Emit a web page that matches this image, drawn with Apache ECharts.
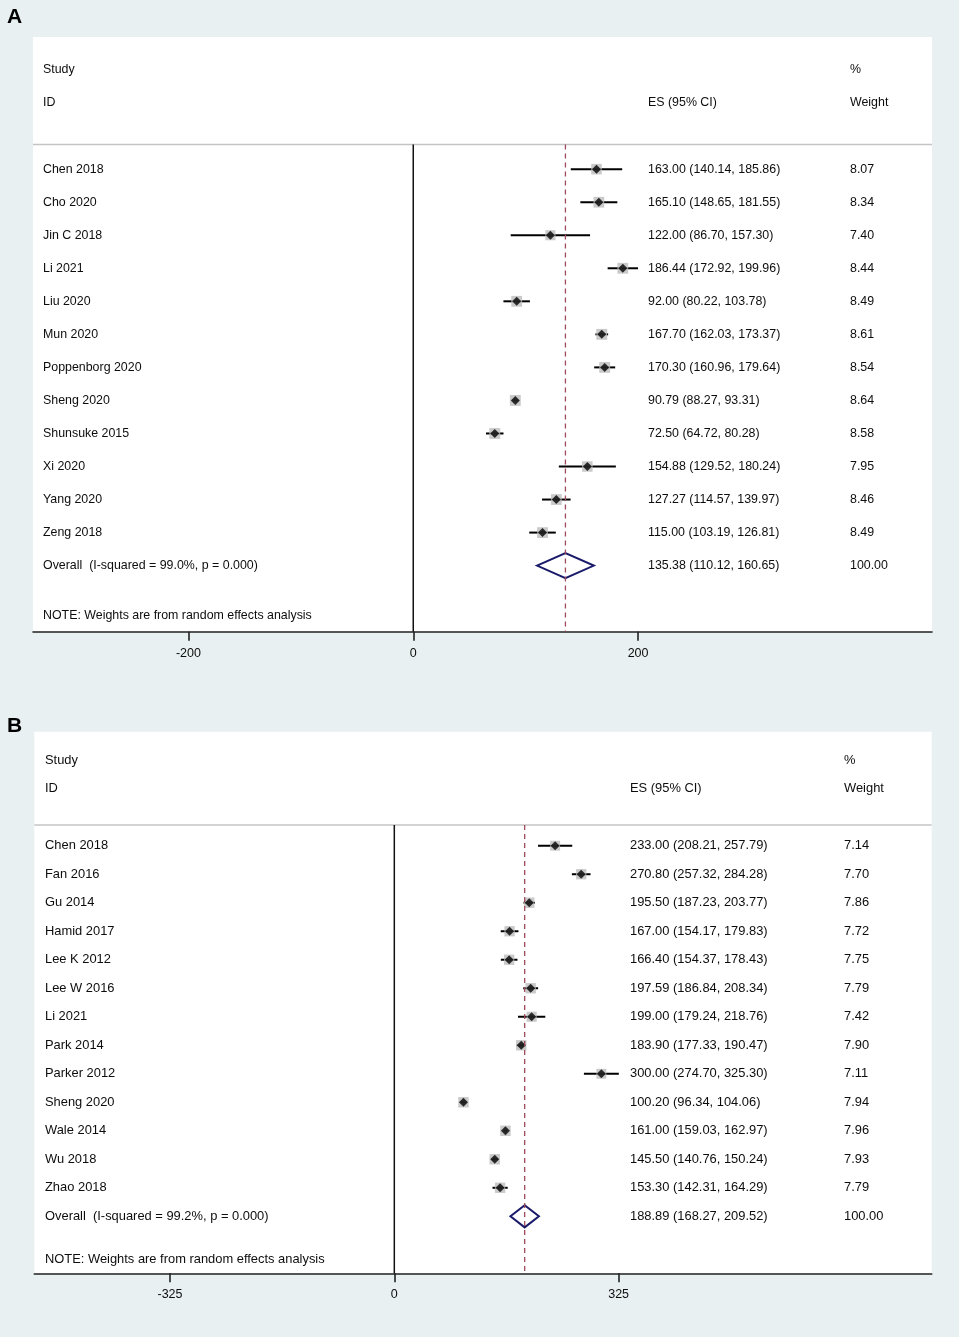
<!DOCTYPE html>
<html>
<head>
<meta charset="utf-8">
<script src="https://cdn.jsdelivr.net/npm/echarts@6.0.0/dist/echarts.min.js"></script>
<style>
  html, body { margin: 0; padding: 0; background: #e8f0f2; }
  #chart { width: 959px; height: 1337px; }
</style>
</head>
<body>
<div id="chart"></div>
<script>
// ---- panel A data ----
const studiesA = ['Chen 2018', 'Cho 2020', 'Jin C 2018', 'Li 2021', 'Liu 2020', 'Mun 2020', 'Poppenborg 2020',
  'Sheng 2020', 'Shunsuke 2015', 'Xi 2020', 'Yang 2020', 'Zeng 2018']
const esA = [163.00, 165.10, 122.00, 186.44, 92.00, 167.70, 170.30, 90.79, 72.50, 154.88, 127.27, 115.00]
const loA = [140.14, 148.65, 86.70, 172.92, 80.22, 162.03, 160.96, 88.27, 64.72, 129.52, 114.57, 103.19]
const hiA = [185.86, 181.55, 157.30, 199.96, 103.78, 173.37, 179.64, 93.31, 80.28, 180.24, 139.97, 126.81]
const weightA = [8.07, 8.34, 7.40, 8.44, 8.49, 8.61, 8.54, 8.64, 8.58, 7.95, 8.46, 8.49]
const overallA = [135.38, 110.12, 160.65]
const overallLabelA = 'Overall  (I-squared = 99.0%, p = 0.000)'
const ticksA = [-200, 0, 200]

// ---- panel B data ----
const studiesB = ['Chen 2018', 'Fan 2016', 'Gu 2014', 'Hamid 2017', 'Lee K 2012', 'Lee W 2016', 'Li 2021',
  'Park 2014', 'Parker 2012', 'Sheng 2020', 'Wale 2014', 'Wu 2018', 'Zhao 2018']
const esB = [233.00, 270.80, 195.50, 167.00, 166.40, 197.59, 199.00, 183.90, 300.00, 100.20, 161.00, 145.50, 153.30]
const loB = [208.21, 257.32, 187.23, 154.17, 154.37, 186.84, 179.24, 177.33, 274.70, 96.34, 159.03, 140.76, 142.31]
const hiB = [257.79, 284.28, 203.77, 179.83, 178.43, 208.34, 218.76, 190.47, 325.30, 104.06, 162.97, 150.24, 164.29]
const weightB = [7.14, 7.70, 7.86, 7.72, 7.75, 7.79, 7.42, 7.90, 7.11, 7.94, 7.96, 7.93, 7.79]
const overallB = [188.89, 168.27, 209.52]
const overallLabelB = 'Overall  (I-squared = 99.2%, p = 0.000)'
const ticksB = [-325, 0, 325]

const noteText = 'NOTE: Weights are from random effects analysis'

const FONT = '"Liberation Sans", Arial, sans-serif'
const INK = '#0d0d0d'

function fmt(v) { return v.toFixed(2) }

function makePanel(idx, d, lay) {
  const n = d.studies.length
  const overallRow = n
  const yMax = n + 2
  const hdr = lay.headerRow
  const font = lay.fontSize + 'px ' + FONT

  const texts = [
    { col: 'study', row: -3, text: 'Study' },
    { col: 'study', row: -2, text: 'ID' },
    { col: 'es', row: -2, text: 'ES (95% CI)' },
    { col: 'w', row: -3, text: '%' },
    { col: 'w', row: -2, text: 'Weight' }
  ]
  d.studies.forEach((s, i) => {
    texts.push({ col: 'study', row: i, text: s })
    texts.push({ col: 'es', row: i, text: fmt(d.es[i]) + ' (' + fmt(d.lo[i]) + ', ' + fmt(d.hi[i]) + ')' })
    texts.push({ col: 'w', row: i, text: fmt(d.weight[i]) })
  })
  const ov = d.overall
  texts.push({ col: 'study', row: overallRow, text: d.overallLabel })
  texts.push({ col: 'es', row: overallRow, text: fmt(ov[0]) + ' (' + fmt(ov[1]) + ', ' + fmt(ov[2]) + ')' })
  texts.push({ col: 'w', row: overallRow, text: '100.00' })
  texts.push({ col: 'study', row: overallRow + 1.5, text: noteText })

  const ax = { xAxisIndex: idx, yAxisIndex: idx }

  const grid = {
    left: lay.left, width: lay.width, top: lay.top, height: lay.height,
    show: true, backgroundColor: '#ffffff', borderWidth: 0, containLabel: false
  }
  const xAxis = {
    gridIndex: idx, type: 'value', min: lay.xMin, max: lay.xMax, position: 'bottom',
    splitLine: { show: false },
    axisLine: { show: true, onZero: false, lineStyle: { color: '#222', width: 1.6 } },
    axisTick: { show: true, customValues: d.ticks, length: 9, lineStyle: { color: '#222', width: 1.6 } },
    axisLabel: { show: true, customValues: d.ticks, color: INK, fontFamily: FONT, fontSize: 12.5, margin: 15 }
  }
  const yAxis = { gridIndex: idx, type: 'value', inverse: true, min: -4, max: yMax, show: false }

  const series = [
    { type: 'line', ...ax, silent: true, symbol: 'none',
      lineStyle: { color: '#c4c4c4', width: 1.5 },
      data: [[lay.xMin, hdr], [lay.xMax, hdr]] },
    { type: 'line', ...ax, silent: true, symbol: 'none',
      lineStyle: { color: '#111', width: 1.5 },
      data: [[0, hdr], [0, yMax]] },
    { type: 'scatter', ...ax, silent: true, symbol: 'rect',
      itemStyle: { color: '#bdbdbd' },
      data: d.es.map((v, i) => ({ value: [v, i], symbolSize: lay.box * Math.sqrt(d.weight[i] / 8) })) },
    { type: 'custom', ...ax, silent: true,
      encode: { x: [0, 1], y: 2 },
      data: d.lo.map((v, i) => [v, d.hi[i], i]),
      renderItem: (params, api) => {
        const a = api.coord([api.value(0), api.value(2)])
        const b = api.coord([api.value(1), api.value(2)])
        return { type: 'line', shape: { x1: a[0], y1: a[1], x2: b[0], y2: b[1] },
          style: { stroke: '#000', lineWidth: 2 } }
      } },
    { type: 'scatter', ...ax, silent: true, symbol: 'diamond', symbolSize: 9,
      itemStyle: { color: '#000' },
      data: d.es.map((v, i) => [v, i]) },
    { type: 'line', ...ax, silent: true, symbol: 'none',
      lineStyle: { color: '#9e4b5a', width: 1.3, type: [5, 4] },
      data: [[ov[0], hdr], [ov[0], yMax]] },
    { type: 'custom', ...ax, silent: true,
      encode: { x: [0, 1, 2], y: 3 },
      data: [[ov[1], ov[0], ov[2], overallRow]],
      renderItem: (params, api) => {
        const r = api.value(3)
        const h = lay.diamondHalf
        const pts = [
          api.coord([api.value(0), r]),
          api.coord([api.value(1), r - h]),
          api.coord([api.value(2), r]),
          api.coord([api.value(1), r + h])
        ]
        return { type: 'polygon', shape: { points: pts },
          style: { fill: 'none', stroke: '#1a1a6a', lineWidth: 2 } }
      } },
    { type: 'custom', ...ax, silent: true, clip: false,
      encode: { x: 0, y: 1 },
      data: texts.map(t => [0, t.row]),
      renderItem: (params, api) => {
        const t = texts[params.dataIndex]
        const y = api.coord([0, api.value(1)])[1]
        return { type: 'text',
          style: { text: t.text, x: params.coordSys.x + lay.cols[t.col], y: y,
            textAlign: 'left', textVerticalAlign: 'middle', font: font, fill: INK } }
      } }
  ]
  return { grid, xAxis, yAxis, series }
}

const panelA = makePanel(0,
  { studies: studiesA, es: esA, lo: loA, hi: hiA, weight: weightA, overall: overallA,
    overallLabel: overallLabelA, ticks: ticksA },
  { left: 33, width: 899, top: 37, height: 594.7, xMin: -338.3, xMax: 461.5,
    headerRow: -0.75, fontSize: 12.4, box: 10.5, diamondHalf: 0.38,
    cols: { study: 10, es: 615, w: 817 } })

const panelB = makePanel(1,
  { studies: studiesB, es: esB, lo: loB, hi: hiB, weight: weightB, overall: overallB,
    overallLabel: overallLabelB, ticks: ticksB },
  { left: 34.3, width: 897.4, top: 731.7, height: 541.6, xMin: -521.6, xMax: 778.6,
    headerRow: -0.73, fontSize: 12.9, box: 10.5, diamondHalf: 0.39,
    cols: { study: 10.7, es: 595.7, w: 809.7 } })

const chart = echarts.init(document.getElementById('chart'), null, { renderer: 'canvas' })
chart.setOption({
  backgroundColor: '#e8f0f2',
  animation: false,
  grid: [panelA.grid, panelB.grid],
  xAxis: [panelA.xAxis, panelB.xAxis],
  yAxis: [panelA.yAxis, panelB.yAxis],
  series: [...panelA.series, ...panelB.series],
  graphic: [
    { type: 'text', left: 7, top: 7, style: { text: 'A', font: 'bold 21px ' + FONT, fill: '#000' } },
    { type: 'text', left: 7, top: 716, style: { text: 'B', font: 'bold 21px ' + FONT, fill: '#000' } }
  ]
})
</script>
</body>
</html>
